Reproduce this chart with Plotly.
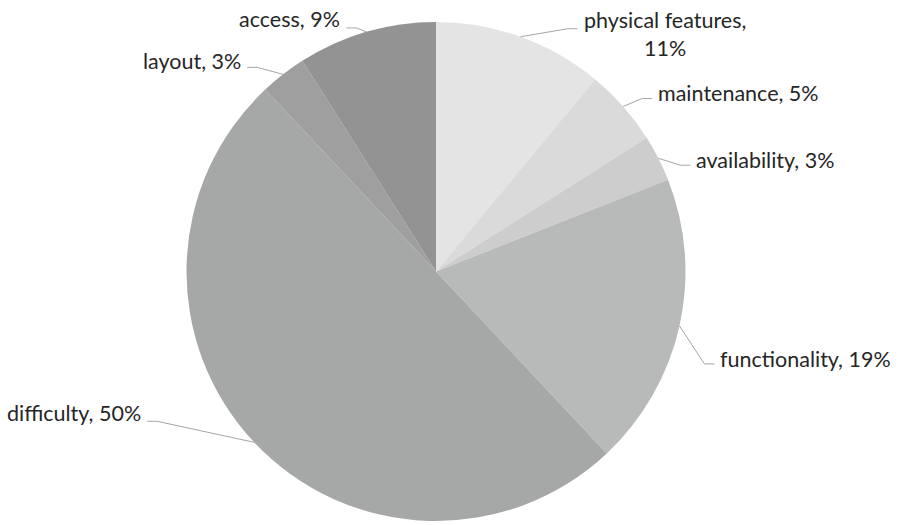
import numpy as np
import plotly.graph_objects as go

# ---- data ----
categories = ["physical features", "maintenance", "availability", "functionality",
              "difficulty", "layout", "access"]
values = [11, 5, 3, 19, 50, 3, 9]
colors = ["#e4e4e4", "#dadada", "#cdcdcd", "#b8b9b9", "#a6a7a7", "#9f9f9f", "#939393"]

# ---- layout / styling (pixels) ----
W, H = 899, 525
CX, CY, R = 436.0, 271.5, 249.5
# elbow offset from slice edge (dx, dy), side of the text, text dy, label separator
label_layout = [
    (47, -8, "right", 5, ",<br>"),
    (19, -8, "right", -6, ", "),
    (22, 7, "right", -5, ", "),
    (25, 38, "right", -5, ", "),
    (-97, -21, "left", -8, ", "),
    (-26, -7, "left", -6, ", "),
    (-10, -4, "left", -9, ", "),
]
TAIL = 10
GAP = 4
LINE_COLOR = "#a6a6a6"
FONT = dict(family="Lato, 'Open Sans', sans-serif", size=21.5, color="#262626")


def px2paper(x, y):
    return x / W, 1 - y / H


fig = go.Figure(go.Pie(
    labels=categories,
    values=values,
    sort=False,
    direction="clockwise",
    rotation=0,
    marker=dict(colors=colors, line=dict(width=0)),
    textinfo="none",
    hoverinfo="label+percent",
    showlegend=False,
    domain=dict(x=[(CX - R) / W, (CX + R) / W],
                y=[1 - (CY + R) / H, 1 - (CY - R) / H]),
))

total = float(sum(values))
cum = np.cumsum(values)
shapes = []
annotations = []
for i, (cat, v) in enumerate(zip(categories, values)):
    frac = (cum[i] - v / 2.0) / total
    th = frac * 2 * np.pi
    ex = CX + R * np.sin(th)
    ey = CY - R * np.cos(th)
    dx, dy, side, tdy, sep = label_layout[i]
    bx, by = ex + dx, ey + dy
    sgn = 1 if side == "right" else -1
    tx = bx + sgn * TAIL
    for (x0, y0, x1, y1) in [(ex, ey, bx, by), (bx, by, tx, by)]:
        p0 = px2paper(x0, y0)
        p1 = px2paper(x1, y1)
        shapes.append(dict(type="line", xref="paper", yref="paper",
                           x0=p0[0], y0=p0[1], x1=p1[0], y1=p1[1],
                           line=dict(color=LINE_COLOR, width=1)))
    ax_, ay_ = px2paper(tx + sgn * GAP, by + tdy)
    annotations.append(dict(
        x=ax_, y=ay_, xref="paper", yref="paper",
        text=f"{cat}{sep}{v}%", showarrow=False,
        xanchor="left" if side == "right" else "right",
        yanchor="middle", align="center", font=FONT,
    ))

fig.update_layout(
    width=W, height=H,
    margin=dict(l=0, r=0, t=0, b=0),
    paper_bgcolor="white", plot_bgcolor="white",
    shapes=shapes, annotations=annotations,
)

fig.write_html("out.html")
